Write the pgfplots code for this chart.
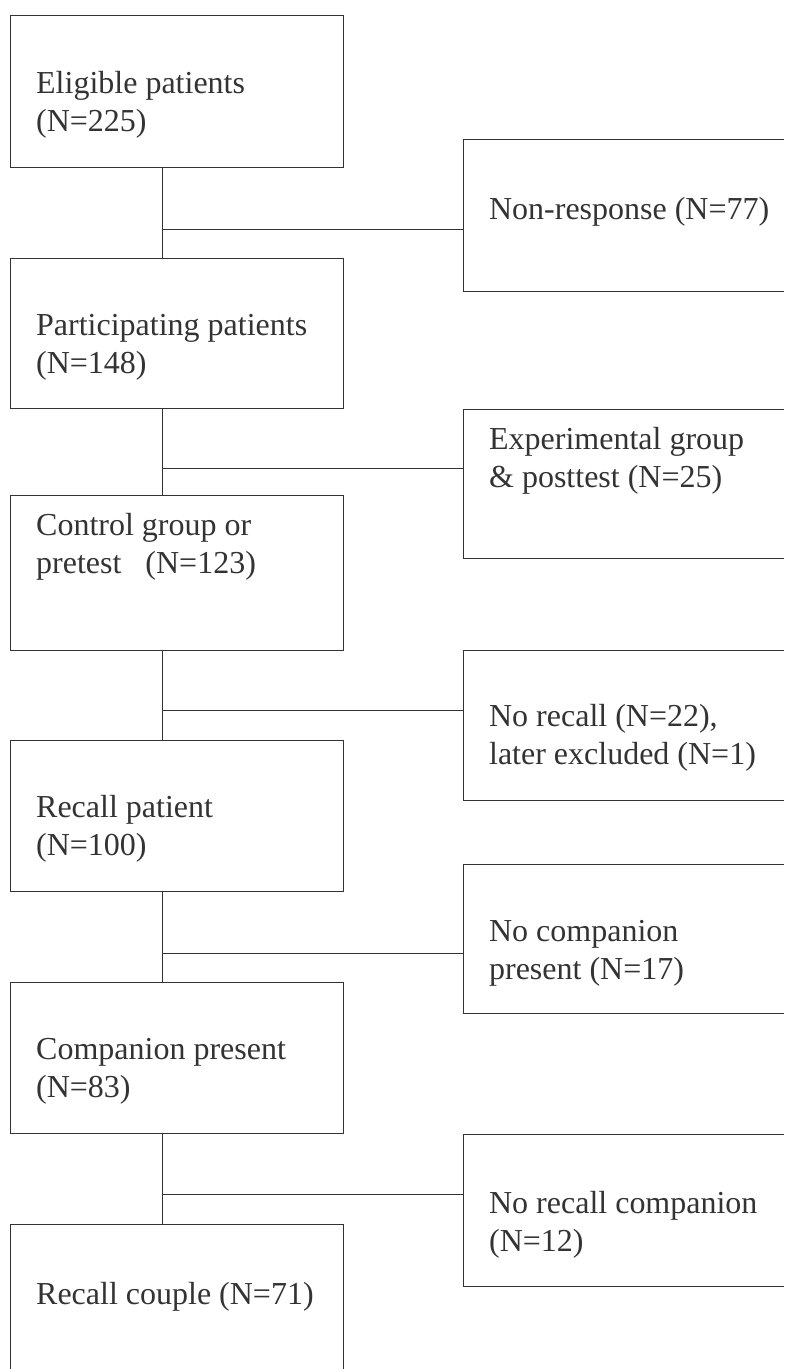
\documentclass[border=0pt]{standalone}
\usepackage{pgfplots}
\pgfplotsset{compat=1.18}
\usepackage{fontspec}
\setmainfont{Liberation Serif}
\definecolor{ink}{HTML}{333333}
\tikzset{txt/.style={anchor=west, align=left, inner sep=0pt, text=ink, font=\fontsize{32}{38}\selectfont}}
\begin{document}
\begin{tikzpicture}
\begin{axis}[
  width=784pt, height=1369pt, scale only axis,
  xmin=0, xmax=784, ymin=0, ymax=1369, y dir=reverse,
  hide axis, clip=false,
  cycle list={{draw=ink, line width=1.2pt, mark=none}},
  every axis plot/.append style={forget plot},
]
\addplot[draw=none] coordinates {(0,0) (784,1369)};
% left column boxes
\addplot coordinates {(10,15) (343,15) (343,167) (10,167) (10,15)};
\addplot coordinates {(10,258) (343,258) (343,408) (10,408) (10,258)};
\addplot coordinates {(10,495) (343,495) (343,650) (10,650) (10,495)};
\addplot coordinates {(10,740) (343,740) (343,891) (10,891) (10,740)};
\addplot coordinates {(10,982) (343,982) (343,1133) (10,1133) (10,982)};
\addplot coordinates {(343,1369) (343,1224) (10,1224) (10,1369)};
% right column boxes (cut at right edge)
\addplot coordinates {(784,139) (463,139) (463,291) (784,291)};
\addplot coordinates {(784,409) (463,409) (463,558) (784,558)};
\addplot coordinates {(784,650) (463,650) (463,800) (784,800)};
\addplot coordinates {(784,864) (463,864) (463,1013) (784,1013)};
\addplot coordinates {(784,1134) (463,1134) (463,1286) (784,1286)};
% vertical connectors
\addplot coordinates {(162,167) (162,258)};
\addplot coordinates {(162,408) (162,495)};
\addplot coordinates {(162,650) (162,740)};
\addplot coordinates {(162,891) (162,982)};
\addplot coordinates {(162,1133) (162,1224)};
% horizontal connectors
\addplot coordinates {(162,229) (463,229)};
\addplot coordinates {(162,468) (463,468)};
\addplot coordinates {(162,710) (463,710)};
\addplot coordinates {(162,953) (463,953)};
\addplot coordinates {(162,1194) (463,1194)};
% texts left
\node[txt] at (axis cs:36,105) {Eligible patients\\(N=225)};
\node[txt] at (axis cs:36,347) {Participating patients\\(N=148)};
\node[txt] at (axis cs:36,547) {Control group or\\pretest\hspace{0.5em} (N=123)};
\node[txt] at (axis cs:36,829) {Recall patient\\(N=100)};
\node[txt] at (axis cs:36,1071) {Companion present\\(N=83)};
\node[txt] at (axis cs:36,1297) {Recall couple (N=71)};
% texts right
\node[txt] at (axis cs:489,212) {Non-response (N=77)};
\node[txt] at (axis cs:489,461) {Experimental group\\\& posttest (N=25)};
\node[txt] at (axis cs:489,738) {No recall (N=22),\\later excluded (N=1)};
\node[txt] at (axis cs:489,953) {No companion\\present (N=17)};
\node[txt] at (axis cs:489,1225) {No recall companion\\(N=12)};
\end{axis}
\end{tikzpicture}
\end{document}
